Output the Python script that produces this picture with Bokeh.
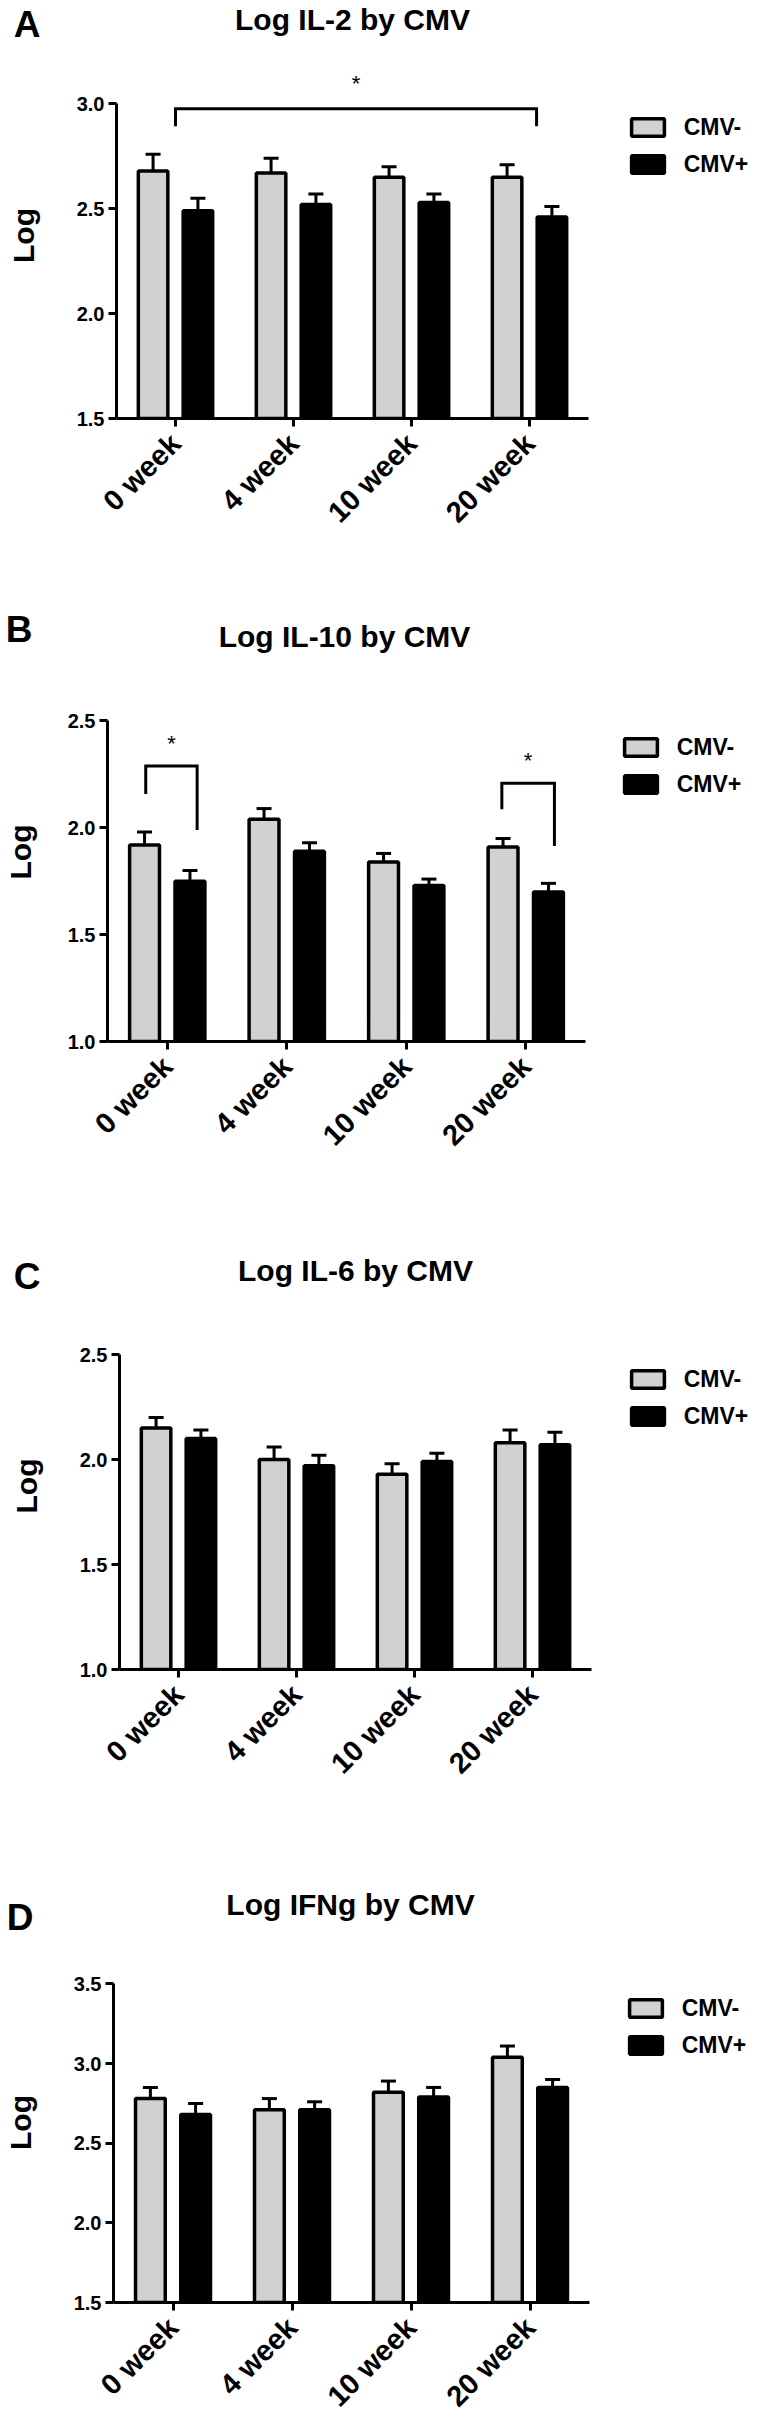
import math
from bokeh.plotting import figure
from bokeh.models import (Range1d, FixedTicker, PrintfTickFormatter, Whisker, TeeHead,
                          ColumnDataSource, Legend, LegendItem, Label)
from bokeh.layouts import column
from bokeh.embed import file_html
from bokeh.resources import INLINE
from bokeh.core.properties import value

# ---------------- data ----------------
weeks = ["0 week", "4 week", "10 week", "20 week"]
series = ["CMV-", "CMV+"]

il2_neg = [2.68, 2.67, 2.65, 2.65]
il2_neg_sem = [0.08, 0.07, 0.05, 0.06]
il2_pos = [2.49, 2.52, 2.53, 2.46]
il2_pos_sem = [0.06, 0.05, 0.04, 0.05]

il10_neg = [1.92, 2.04, 1.84, 1.91]
il10_neg_sem = [0.06, 0.05, 0.04, 0.04]
il10_pos = [1.75, 1.89, 1.73, 1.70]
il10_pos_sem = [0.05, 0.04, 0.03, 0.04]

il6_neg = [2.15, 2.00, 1.93, 2.08]
il6_neg_sem = [0.05, 0.06, 0.05, 0.06]
il6_pos = [2.10, 1.97, 1.99, 2.07]
il6_pos_sem = [0.04, 0.05, 0.04, 0.06]

ifng_neg = [2.78, 2.71, 2.82, 3.04]
ifng_neg_sem = [0.07, 0.07, 0.07, 0.07]
ifng_pos = [2.68, 2.71, 2.79, 2.85]
ifng_pos_sem = [0.07, 0.05, 0.06, 0.05]

ticks_il2 = [1.5, 2.0, 2.5, 3.0]
ticks_il10 = [1.0, 1.5, 2.0, 2.5]
ticks_il6 = [1.0, 1.5, 2.0, 2.5]
ticks_ifng = [1.5, 2.0, 2.5, 3.0, 3.5]

# significance brackets: (x left, x right, y left end, y top, y right end, star y)
sig_il2 = [(0.0, 3.06, 2.893, 2.977, 2.893, 3.131)]
sig_il10 = [(-0.18, 0.25, 2.158, 2.289, 1.99, 2.427),
            (2.80, 3.24, 2.087, 2.208, 1.915, 2.346)]
sig_il6 = []
sig_ifng = []

# ---------------- style / layout ----------------
FONT = "Liberation Sans"
GRAY = "#d0d1d3"
PAGE_W = 768
MARGIN = 8
MBH = 100                # left border of the header strips
LH = MARGIN + MBH
OFFSET = 0.19
BAR_W = 0.25
LETTER_SIZE = 37
BAR_LW = 3.5

# legend geometry (Bokeh insets area glyphs by 10% of the glyph box)
GLYPH_W = 41
GLYPH_H = 22
ITEM_H = 27
ITEM_GAP = 10

panels = [
    dict(letter="A", title="Log IL-2 by CMV", neg=il2_neg, neg_e=il2_neg_sem, pos=il2_pos, pos_e=il2_pos_sem,
         ticks=ticks_il2, sig=sig_il2, lab_standoff=34,
         fig_top=8, plot_top=60, fig_bot=590, fl=124, fr=596, fb=426, ppu=209.8,
         letter_cx=34.6, letter_cy=25, title_base=27, leg_x=637, leg_top=122, leg_text=692),
    dict(letter="B", title="Log IL-10 by CMV", neg=il10_neg, neg_e=il10_neg_sem, pos=il10_pos, pos_e=il10_pos_sem,
         ticks=ticks_il10, sig=sig_il10, lab_standoff=28,
         fig_top=590, plot_top=670, fig_bot=1225, fl=113, fr=591, fb=1049, ppu=213.7,
         letter_cx=26.8, letter_cy=637, title_base=643.7, leg_x=628, leg_top=742, leg_text=683),
    dict(letter="C", title="Log IL-6 by CMV", neg=il6_neg, neg_e=il6_neg_sem, pos=il6_pos, pos_e=il6_pos_sem,
         ticks=ticks_il6, sig=sig_il6, lab_standoff=34,
         fig_top=1225, plot_top=1310, fig_bot=1858, fl=127, fr=599, fb=1677, ppu=210.0,
         letter_cx=35, letter_cy=1284, title_base=1277.5, leg_x=637, leg_top=1374, leg_text=692),
    dict(letter="D", title="Log IFNg by CMV", neg=ifng_neg, neg_e=ifng_neg_sem, pos=ifng_pos, pos_e=ifng_pos_sem,
         ticks=ticks_ifng, sig=sig_ifng, lab_standoff=34,
         fig_top=1858, plot_top=1950, fig_bot=2427, fl=120, fr=596, fb=2310, ppu=159.3,
         letter_cx=28, letter_cy=1925, title_base=1911.5, leg_x=634, leg_top=2003, leg_text=689),
]


def header(cfg):
    top, bot = cfg["fig_top"], cfg["plot_top"]
    h = figure(frame_width=PAGE_W - LH, frame_height=bot - top,
               min_border_left=MBH, min_border_right=0, min_border_top=0, min_border_bottom=0,
               x_range=Range1d(LH, PAGE_W), y_range=Range1d(bot, top),
               x_axis_type=None, output_backend="svg", toolbar_location=None, tools="")
    h.outline_line_color = None
    h.grid.visible = False
    title_x = (cfg["fl"] + cfg["fr"]) / 2
    h.text(x=[title_x], y=[cfg["title_base"]], text=[cfg["title"]],
           text_align="center", text_baseline="alphabetic",
           text_font=value(FONT), text_font_style="bold", text_font_size="30px",
           text_color="black")
    # panel letter: the single label of a bare axis in the left border
    ax = h.yaxis[0]
    ax.ticker = FixedTicker(ticks=[cfg["letter_cy"]])
    ax.major_label_overrides = {cfg["letter_cy"]: cfg["letter"]}
    ax.axis_line_color = None
    ax.major_tick_line_color = None
    ax.minor_tick_line_color = None
    ax.major_tick_out = 0
    ax.major_tick_in = 0
    right_edge = cfg["letter_cx"] + 0.361 * LETTER_SIZE
    ax.major_label_standoff = int(round(LH - right_edge))
    ax.major_label_text_font = FONT
    ax.major_label_text_font_style = "bold"
    ax.major_label_text_font_size = f"{LETTER_SIZE}px"
    ax.major_label_text_color = "black"
    return h


def build(cfg):
    fl, fr, pt, fb, ppu = cfg["fl"], cfg["fr"], cfg["plot_top"], cfg["fb"], cfg["ppu"]
    y0 = cfg["ticks"][0]
    y1 = y0 + (fb - pt) / ppu
    n = len(weeks)
    xppu = (fr - fl) / n
    x1 = -0.5 + (PAGE_W - fl) / xppu

    p = figure(frame_width=PAGE_W - fl, frame_height=fb - pt,
               min_border_left=fl - MARGIN, min_border_right=0,
               min_border_top=0, min_border_bottom=cfg["fig_bot"] - fb,
               x_range=Range1d(-0.5, x1), y_range=Range1d(y0, y1),
               output_backend="svg", toolbar_location=None, tools="")
    p.outline_line_color = None
    p.grid.visible = False
    p.background_fill_color = "white"

    idx = list(range(n))
    src_neg = ColumnDataSource(dict(x=[i - OFFSET for i in idx], top=cfg["neg"],
                                    upper=[v + e for v, e in zip(cfg["neg"], cfg["neg_e"])]))
    src_pos = ColumnDataSource(dict(x=[i + OFFSET for i in idx], top=cfg["pos"],
                                    upper=[v + e for v, e in zip(cfg["pos"], cfg["pos_e"])]))

    for src in (src_neg, src_pos):
        w = Whisker(base="x", lower="top", upper="upper", source=src, dimension="height",
                    line_color="black", line_width=3,
                    upper_head=TeeHead(size=15, line_width=3, line_color="black"),
                    lower_head=None, level="underlay")
        p.add_layout(w)

    r_neg = p.vbar(x="x", top="top", bottom=y0, width=BAR_W, source=src_neg,
                   fill_color=GRAY, line_color="black", line_width=BAR_LW)
    r_pos = p.vbar(x="x", top="top", bottom=y0, width=BAR_W, source=src_pos,
                   fill_color="black", line_color="black", line_width=BAR_LW)

    for (xl, xr, yl, yt, yr, ys) in cfg["sig"]:
        p.line([xl, xl, xr, xr], [yl, yt, yt, yr], line_color="black", line_width=3,
               line_join="miter")
        star = Label(x=(xl + xr) / 2, y=ys, text="*", text_align="center",
                     text_baseline="middle", y_offset=-7,
                     text_font=FONT, text_font_size="22px", text_color="black")
        p.add_layout(star)

    yax = p.yaxis[0]
    yax.ticker = FixedTicker(ticks=cfg["ticks"])
    yax.formatter = PrintfTickFormatter(format="%.1f")
    yax.bounds = (cfg["ticks"][0], cfg["ticks"][-1])
    yax.axis_label = "Log"
    yax.axis_label_text_font = FONT
    yax.axis_label_text_font_style = "bold"
    yax.axis_label_text_font_size = "30px"
    yax.axis_label_text_color = "black"
    yax.axis_label_standoff = cfg["lab_standoff"]

    xax = p.xaxis[0]
    xax.ticker = FixedTicker(ticks=idx)
    xax.bounds = (-0.5, n - 0.5)
    xax.major_label_overrides = {i: w for i, w in zip(idx, weeks)}
    xax.major_label_orientation = math.pi / 4
    xax.major_label_text_font_size = "29px"
    xax.major_label_standoff = 12

    for ax in (xax, yax):
        ax.axis_line_width = 3
        ax.axis_line_color = "black"
        ax.major_tick_line_width = 3
        ax.major_tick_line_color = "black"
        ax.major_tick_out = 8
        ax.major_tick_in = 0
        ax.minor_tick_line_color = None
        ax.major_label_text_font = FONT
        ax.major_label_text_font_style = "bold"
        ax.major_label_text_color = "black"
    yax.major_label_text_font_size = "20px"
    yax.major_label_standoff = 4

    # legend box: outer edge of the first swatch at (leg_x, leg_top) on the page
    gx0 = cfg["leg_x"] + BAR_LW / 2 - 0.1 * GLYPH_W
    gy0 = cfg["leg_top"] + BAR_LW / 2 - 0.1 * GLYPH_H
    leg_h = 2 * ITEM_H + ITEM_GAP
    standoff = int(round(cfg["leg_text"] - (gx0 + GLYPH_W)))
    legend = Legend(items=[LegendItem(label=series[0], renderers=[r_neg]),
                           LegendItem(label=series[1], renderers=[r_pos])],
                    location=(gx0 - fl, fb - (gy0 + leg_h)),
                    padding=0, margin=0, border_line_color=None, background_fill_alpha=0,
                    glyph_width=GLYPH_W, glyph_height=GLYPH_H, label_standoff=standoff,
                    spacing=ITEM_GAP, label_height=ITEM_H,
                    label_text_font=FONT, label_text_font_style="bold",
                    label_text_color="black", label_text_font_size="23px")
    p.add_layout(legend, "center")
    return p


figs = []
for c in panels:
    figs.append(column(header(c), spacing=0))
    figs.append(column(build(c), spacing=0))
layout = column(*figs, spacing=0)
open("out.html", "w").write(file_html(layout, INLINE))
